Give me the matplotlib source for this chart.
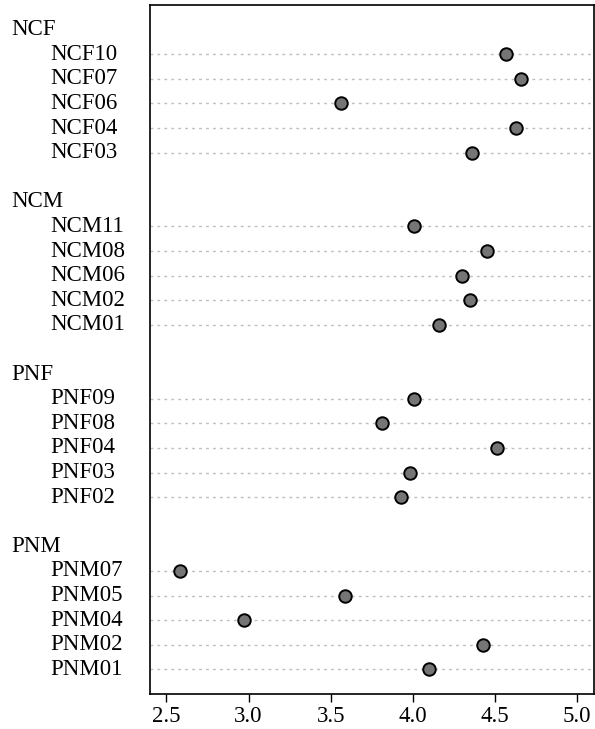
import numpy as np
from matplotlib import pyplot as plt
from matplotlib.transforms import blended_transform_factory

plt.rcParams['font.family'] = 'Liberation Serif'

groups = ['NCF', 'NCM', 'PNF', 'PNM']
labels = {
    'NCF': ['NCF10', 'NCF07', 'NCF06', 'NCF04', 'NCF03'],
    'NCM': ['NCM11', 'NCM08', 'NCM06', 'NCM02', 'NCM01'],
    'PNF': ['PNF09', 'PNF08', 'PNF04', 'PNF03', 'PNF02'],
    'PNM': ['PNM07', 'PNM05', 'PNM04', 'PNM02', 'PNM01'],
}
values = {
    'NCF': [4.57, 4.66, 3.56, 4.63, 4.36],
    'NCM': [4.01, 4.45, 4.30, 4.35, 4.16],
    'PNF': [4.01, 3.81, 4.51, 3.98, 3.93],
    'PNM': [2.58, 3.59, 2.97, 4.43, 4.10],
}

W, H = 595, 729
fig = plt.figure(figsize=(W / 100, H / 100), dpi=100)
ax = fig.add_axes([150 / W, 1 - 694 / H, 443.5 / W, 689 / H])

# dotchart layout: groups stacked from the bottom, header row + blank row between
y = 0
pos = {}
head = {}
for g in reversed(groups):
    n = len(labels[g])
    pos[g] = y + np.arange(n, 0, -1)
    head[g] = y + n + 1
    y += n + 2

fs = 16.5
for g in groups:
    for v, yy in zip(values[g], pos[g]):
        ax.axhline(yy, color='#bdbdbd', ls=(0, (2, 3)), lw=1, zorder=1)
        ax.plot(v, yy, 'o', ms=9, mfc='#757575', mec='black', mew=1.4, zorder=3)

ax.set_xlim(2.4, 5.1)
ax.set_ylim(0, 28)
ax.set_yticks([])
ax.set_xticks([2.5, 3.0, 3.5, 4.0, 4.5, 5.0])
ax.tick_params(axis='x', labelsize=fs, length=6, width=1, pad=3)
for s in ax.spines.values():
    s.set_linewidth(1.2)

# labels in the left margin (figure x, data y)
tr = blended_transform_factory(fig.transFigure, ax.transData)
for g in groups:
    fig.text(11 / W, head[g], g, transform=tr, fontsize=fs, va='center', ha='left')
    for lab, yy in zip(labels[g], pos[g]):
        fig.text(50 / W, yy, lab, transform=tr, fontsize=fs, va='center', ha='left')

fig.savefig('out.png', dpi=100)
